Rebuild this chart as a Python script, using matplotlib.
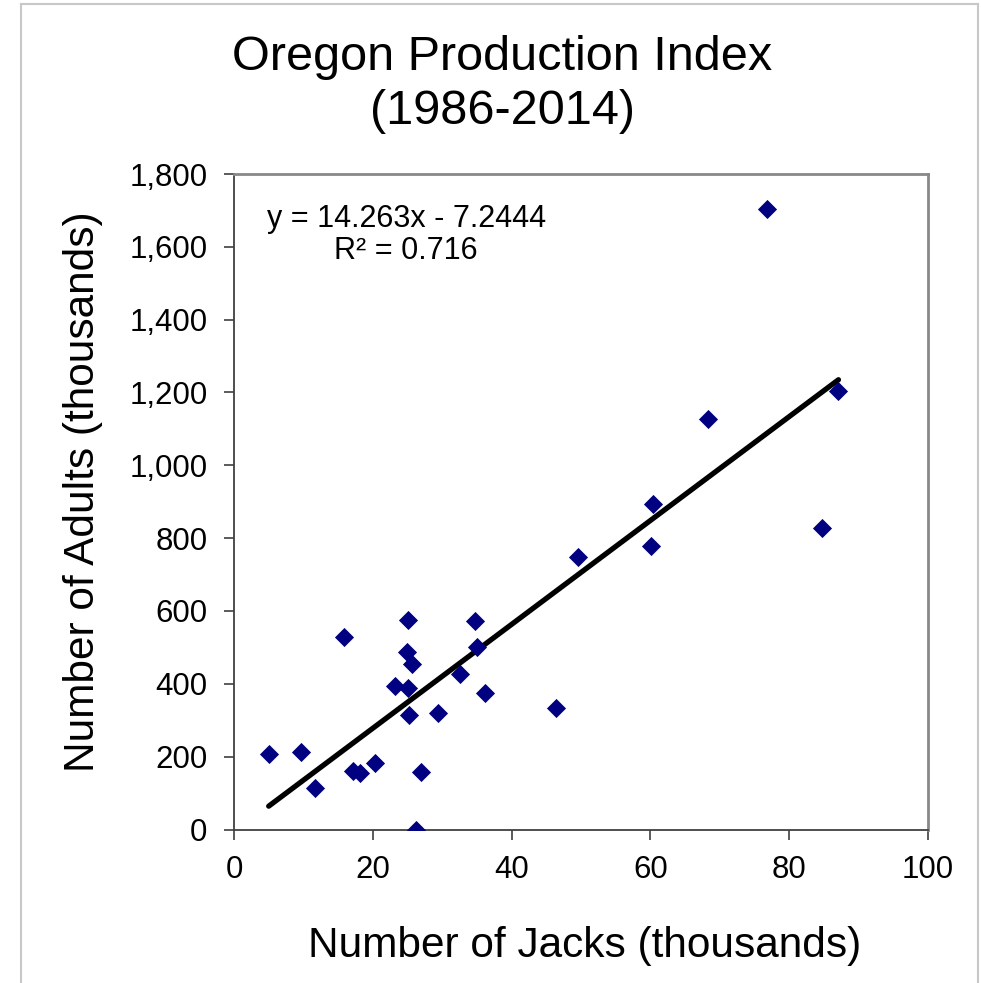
import matplotlib.pyplot as plt
from matplotlib.lines import Line2D
from matplotlib.ticker import FuncFormatter
import numpy as np

plt.rcParams['font.family'] = ['Liberation Sans', 'DejaVu Sans']

## Data (thousands)

jacks = [5.0, 9.7, 11.7, 15.9, 17.1, 18.1, 20.3, 23.2, 25.0, 25.0,
         24.9, 25.6, 25.2, 26.2, 26.9, 29.4, 32.6, 34.7, 35.0, 36.1,
         46.4, 49.6, 60.1, 60.4, 68.3, 76.8, 84.7, 87.1]
adults = [206, 214, 115, 529, 161, 156, 182, 394, 388, 575,
          487, 454, 314, 0, 157, 319, 427, 573, 502, 376,
          333, 749, 778, 893, 1126, 1703, 827, 1205]

slope = 14.263
intercept = -7.2444
r2 = 0.716

x_ticks = [0, 20, 40, 60, 80, 100]
y_ticks = [0, 200, 400, 600, 800, 1000, 1200, 1400, 1600, 1800]

## Plot

fig = plt.figure(figsize=(9.81, 9.83), dpi=100)
ax = fig.add_axes([234 / 981, 1 - 829.5 / 983, 694 / 981, 655.5 / 983])

ax.scatter(jacks, adults, marker='D', s=95, color='#000080', zorder=3,
           linewidths=0)

xl = np.array([min(jacks), max(jacks)])
ax.plot(xl, slope * xl + intercept, color='black', lw=3.8,
        solid_capstyle='round', zorder=2)

ax.set_xlim(0, 100)
ax.set_ylim(0, 1800)
ax.set_xticks(x_ticks)
ax.set_yticks(y_ticks)
ax.yaxis.set_major_formatter(FuncFormatter(lambda v, p: f'{int(v):,}'))
ax.tick_params(axis='both', direction='out', length=7, width=1.2,
               color='#404040', labelsize=22.5)
ax.tick_params(axis='y', pad=12)
ax.tick_params(axis='x', pad=11)

for side in ['left', 'bottom']:
    ax.spines[side].set_color('#404040')
    ax.spines[side].set_linewidth(1.3)
for side in ['top', 'right']:
    ax.spines[side].set_color('#888888')
    ax.spines[side].set_linewidth(2)

ax.set_xlabel('Number of Jacks (thousands)', fontsize=30.5, va='center')
ax.xaxis.set_label_coords(0.505, -0.177)
ax.set_ylabel('Number of Adults (thousands)', fontsize=30.5, va='center')
ax.yaxis.set_label_coords(-0.218, 0.515)

ax.text(24.8, 1632, f'y = {slope}x - {abs(intercept)}\nR² = {r2}',
        ha='center', va='center', fontsize=22, linespacing=1.1)

fig.text(502 / 981, 1 - 58 / 983, 'Oregon Production Index',
         ha='center', va='center', fontsize=35)
fig.text(502 / 981, 1 - 112 / 983, '(1986-2014)',
         ha='center', va='center', fontsize=35)

# light outer frame
for xs, ys in [([21, 978], [4, 4]), ([21, 21], [4, 990]), ([978, 978], [4, 990])]:
    fig.add_artist(Line2D([x / 981 for x in xs], [1 - y / 983 for y in ys],
                          color='#c8c8c8', lw=1.5))

fig.savefig('out.png', dpi=100)
